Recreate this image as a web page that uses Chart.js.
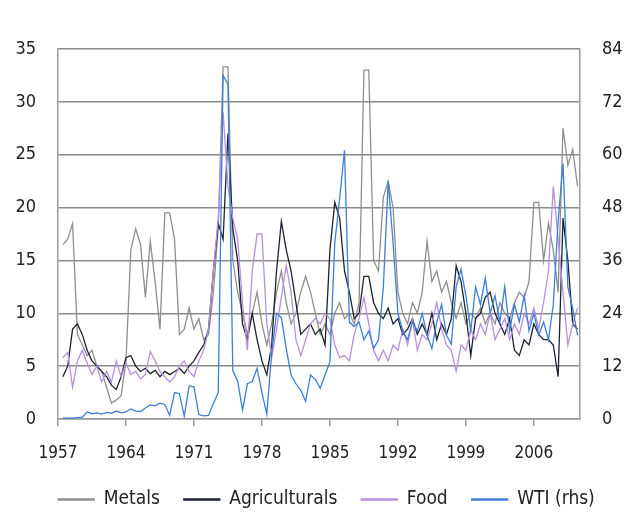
<!DOCTYPE html>
<html>
<head>
<meta charset="utf-8">
<script src="https://cdn.jsdelivr.net/npm/chart.js@4.4.0/dist/chart.umd.min.js"></script>
<style>
  html, body { margin: 0; padding: 0; background: #fff; }
</style>
</head>
<body>
<canvas id="chart" width="627" height="519"></canvas>
<script>
// half-year observations
const years = [
  1957.5, 1958, 1958.5, 1959, 1959.5,
  1960, 1960.5, 1961, 1961.5, 1962, 1962.5, 1963, 1963.5, 1964, 1964.5, 1965, 1965.5, 1966, 1966.5, 1967, 1967.5, 1968, 1968.5, 1969, 1969.5,
  1970, 1970.5, 1971, 1971.5, 1972, 1972.5, 1973, 1973.5, 1974, 1974.5, 1975, 1975.5, 1976, 1976.5, 1977, 1977.5, 1978, 1978.5, 1979, 1979.5,
  1980, 1980.5, 1981, 1981.5, 1982, 1982.5, 1983, 1983.5, 1984, 1984.5, 1985, 1985.5, 1986, 1986.5, 1987, 1987.5, 1988, 1988.5, 1989, 1989.5,
  1990, 1990.5, 1991, 1991.5, 1992, 1992.5, 1993, 1993.5, 1994, 1994.5, 1995, 1995.5, 1996, 1996.5, 1997, 1997.5, 1998, 1998.5, 1999, 1999.5,
  2000, 2000.5, 2001, 2001.5, 2002, 2002.5, 2003, 2003.5, 2004, 2004.5, 2005, 2005.5, 2006, 2006.5, 2007, 2007.5, 2008, 2008.5, 2009, 2009.5,
  2010, 2010.5
];

const metals = [
  16.5, 17, 18.5, 8, 7,
  6, 6.5, 5, 4.5, 3, 1.5, 1.8, 2.2, 5.5, 16, 18, 16.5, 11.5, 16.8, 13, 8.5, 19.5, 19.5, 17, 8,
  8.5, 10.5, 8.5, 9.5, 7.5, 8, 12, 18, 33.3, 33.3, 15, 12, 10, 8, 10, 12, 9, 7, 9, 12,
  14, 11, 9, 10, 12, 13.5, 12, 10, 8, 9, 8, 10, 11, 9.5, 10, 9, 11, 33, 33, 15,
  14, 21, 22.5, 20, 12, 10, 9, 11, 10, 12, 16.8, 13, 14, 12, 13, 11, 9.5, 11, 9, 10,
  9.5, 10.5, 9, 10, 9, 11, 10, 9.5, 11, 12, 11.5, 13, 20.5, 20.5, 15, 18.5, 16, 12, 27.5, 24,
  25.5, 22
];

const agriculturals = [
  4, 5, 8.5, 9, 8,
  6.5, 5.5, 5, 4.5, 4, 3.2, 2.8, 4, 5.8, 6, 5, 4.5, 4.8, 4.3, 4.6, 4, 4.5, 4.2, 4.5, 4.8,
  4.3, 5, 5.5, 6.3, 7, 8.5, 14, 18.5, 17, 27, 18, 15, 9, 7.5, 10, 7.5, 5.5, 4.2, 7, 14,
  18.7, 16, 14, 11, 8, 8.5, 9, 8, 8.5, 7, 16, 20.5, 19, 14, 12, 9.5, 10, 13.5, 13.5, 11,
  10, 9.5, 10.5, 9, 9.5, 8, 8.5, 9.5, 8, 9, 8, 10, 7.5, 9, 8, 9.5, 14.5, 13, 10, 6,
  9.5, 10, 11.5, 12, 10, 9, 8, 9.5, 6.5, 6, 7.5, 7, 9, 8, 7.5, 7.5, 7, 4, 19, 15,
  9, 8.5
];

const food = [
  5.8, 6.3, 3, 5.5, 6.5,
  5.3, 4.2, 5, 3.5, 4.5, 3.5, 5.5, 4, 5.3, 4.2, 4.5, 3.8, 4.2, 6.4, 5.5, 4.5, 4, 3.5, 4, 5,
  5.5, 4.5, 4, 5.5, 6.5, 8.5, 14, 19, 29, 22, 19, 17, 11, 6.5, 14, 17.5, 17.5, 9, 5.8, 8.5,
  11.5, 14.5, 12, 7.5, 6, 7.5, 9, 9.5, 9, 10, 9.5, 7, 5.8, 6, 5.5, 8, 9.5, 11.5, 9, 6.5,
  5.5, 6.5, 5.5, 7, 6.5, 8.5, 7, 9.5, 6.5, 8, 7.5, 9, 11, 8.5, 7, 6.5, 4.5, 7, 6.5, 8.5,
  7.5, 9, 8, 10, 7.5, 8.5, 9.5, 7.5, 9, 8, 10, 9, 10.5, 8.5, 11, 14, 22, 17, 12, 7,
  9, 10.5
];

// right hand scale
const wti = [
  0.2, 0.2, 0.2, 0.3, 0.4,
  1.6, 1.2, 1.4, 1.1, 1.5, 1.3, 1.8, 1.4, 1.6, 2.3, 1.8, 1.7, 2.5, 3.2, 3, 3.6, 3.3, 0.8, 6, 5.8,
  0.6, 7.5, 7.3, 1, 0.7, 0.8, 3.5, 6, 78, 76, 11, 8.6, 2, 8, 8.5, 11.5, 6, 1.1, 15, 24,
  23, 16, 10, 8, 6.5, 4, 10, 9, 7, 10, 13, 40, 50, 61, 22, 21, 22, 18, 20, 16,
  18, 30, 54, 40, 24, 20, 18, 22, 20, 24, 19, 16, 22, 26, 19, 17, 30, 34, 28, 20,
  30, 26, 32, 24, 28, 22, 30, 20, 26, 22, 28, 20, 24, 19, 22, 18, 26, 45, 58, 30,
  25, 19
];

const xTicks = [1957, 1964, 1971, 1978, 1985, 1992, 1999, 2006];

const pts = arr => arr.map((v, i) => ({ x: years[i], y: v }));

Chart.defaults.font.family = "'DejaVu Sans Condensed', 'DejaVu Sans', sans-serif";
Chart.defaults.font.size = 18;
Chart.defaults.color = '#222';

const line = (label, data, color, axis, order) => ({
  label: label,
  data: pts(data),
  borderColor: color,
  backgroundColor: color,
  borderWidth: 1.3,
  pointRadius: 0,
  tension: 0,
  yAxisID: axis,
  order: order
});

// legend sits a little right of centre in the original
const legendShift = {
  id: 'legendShift',
  afterLayout(chart) {
    chart.legend.left += 13;
    chart.legend.right += 13;
  }
};

new Chart(document.getElementById('chart'), {
  type: 'line',
  data: {
    datasets: [
      line('Metals', metals, '#8e8e8e', 'y', 4),
      line('Agriculturals', agriculturals, '#1c2232', 'y', 3),
      line('Food', food, '#b88fe0', 'y', 2),
      line('WTI (rhs)', wti, '#3c7fd8', 'y1', 1)
    ]
  },
  plugins: [legendShift],
  options: {
    responsive: false,
    animation: false,
    layout: { padding: { top: 49, right: 0, bottom: 0, left: 0 } },
    plugins: {
      tooltip: { enabled: false },
      legend: {
        position: 'bottom',
        reverse: true,
        labels: {
          boxWidth: 36,
          boxHeight: 1,
          padding: 24,
          color: '#222',
          font: { size: 19 }
        }
      }
    },
    scales: {
      x: {
        type: 'linear',
        min: 1957,
        max: 2010.75,
        afterBuildTicks: axis => { axis.ticks = xTicks.map(v => ({ value: v })); },
        afterFit: s => { s.height = 47; },
        grid: { drawOnChartArea: false, drawTicks: true, tickLength: 7, color: '#9a9a9a', lineWidth: 1.5 },
        border: { color: '#9a9a9a', width: 1.5 },
        ticks: { padding: 17, maxRotation: 0, autoSkip: false, font: { size: 17 }, callback: v => String(v) }
      },
      y: {
        position: 'left',
        min: 0,
        max: 35,
        afterFit: s => { s.width = 58; },
        ticks: { stepSize: 5, padding: 22 },
        grid: { color: '#8a8a8a', lineWidth: 1.5, drawTicks: false },
        border: { color: '#9a9a9a', width: 1.5 }
      },
      y1: {
        position: 'right',
        min: 0,
        max: 84,
        afterFit: s => { s.width = 47; },
        ticks: { stepSize: 12, padding: 22 },
        grid: { display: false, drawTicks: false },
        border: { color: '#9a9a9a', width: 1.5 }
      }
    }
  }
});
</script>
</body>
</html>
